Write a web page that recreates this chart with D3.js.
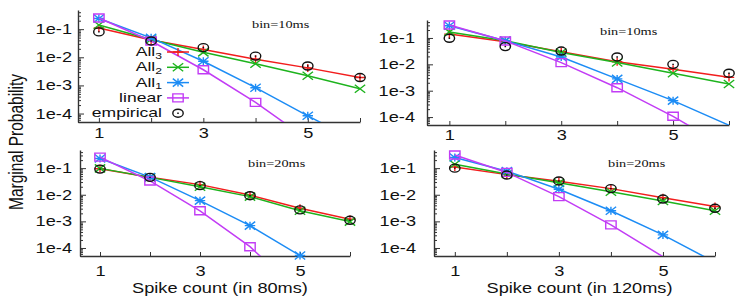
<!DOCTYPE html>
<html>
<head>
<meta charset="utf-8">
<script src="https://cdn.jsdelivr.net/npm/d3@7/dist/d3.min.js"></script>
<style>
  body { margin: 0; background: #fff; }
  svg text { font-family: "Liberation Sans", Arial, sans-serif; fill: #111; }
  svg text.bin { font-family: "Liberation Serif", "Times New Roman", serif; }
</style>
</head>
<body>
<div id="chart"></div>
<script>
const width = 747, height = 300;

// ---- data ----
const counts = [1, 2, 3, 4, 5, 6];
const seriesNames = ["All3", "All2", "All1", "linear", "empirical"];
const binLabels = ["bin=10ms", "bin=10ms", "bin=20ms", "bin=20ms"];
const xAxisLabels = [null, null, "Spike count (in 80ms)", "Spike count (in 120ms)"];
const xTickValues = [1, 2, 3, 4, 5, 6];
const yTickValues = [1e-1, 1e-2, 1e-3, 1e-4];

// top-left
const tlAll3 = [0.11, 0.041, 0.019, 0.0085, 0.0042, 0.0019];
const tlAll2 = [0.14, 0.043, 0.015, 0.0059, 0.0022, 0.00076];
const tlAll1 = [0.24, 0.049, 0.0072, 0.00083, 0.000083, 0.000009];
const tlLinear = [0.25, 0.038, 0.0036, 0.00025, 0.000012, 0.0000008];
const tlEmpirical = [0.08, 0.038, 0.022, 0.011, 0.0049, 0.0019];
// top-right
const trAll3 = [0.14, 0.072, 0.030, 0.0126, 0.0065, 0.0032];
const trAll2 = [0.17, 0.079, 0.028, 0.0117, 0.0046, 0.0018];
const trAll1 = [0.29, 0.079, 0.019, 0.0028, 0.00042, 0.000049];
const trLinear = [0.31, 0.077, 0.0116, 0.0013, 0.000107, 0.000006];
const trEmpirical = [0.097, 0.047, 0.032, 0.019, 0.010, 0.0046];
// bottom-left
const blAll3 = [0.095, 0.045, 0.024, 0.0097, 0.0031, 0.0012];
const blAll2 = [0.098, 0.045, 0.020, 0.0085, 0.0025, 0.00098];
const blAll1 = [0.23, 0.046, 0.006, 0.00069, 0.000052, 0.000005];
const blLinear = [0.26, 0.033, 0.0025, 0.000112, 0.000002, 0.0000001];
const blEmpirical = [0.092, 0.045, 0.022, 0.0092, 0.0027, 0.0011];
// bottom-right
const brAll3 = [0.11, 0.057, 0.032, 0.017, 0.0077, 0.0036];
const brAll2 = [0.14, 0.060, 0.028, 0.013, 0.0058, 0.0025];
const brAll1 = [0.25, 0.077, 0.016, 0.0025, 0.00031, 0.000029];
const brLinear = [0.31, 0.069, 0.0085, 0.00074, 0.000047, 0.000003];
const brEmpirical = [0.10, 0.055, 0.033, 0.017, 0.0069, 0.0031];

// ---- styles / layout ----
const sx = 1.3; // figure is stretched horizontally
const colors = ["#f21d1d", "#1db31d", "#1c8cf5", "#c23cf5", "#111"];
const h = 4;
const symbols = [
  `M${-h},0H${h}M0,${-h}V${h}`,
  `M${-h},${-h}L${h},${h}M${-h},${h}L${h},${-h}`,
  `M${-h},0H${h}M0,${-h}V${h}M${-h},${-h}L${h},${h}M${-h},${h}L${h},${-h}`,
  `M${-h},${-h}H${h}V${h}H${-h}Z`,
  `M${-h},0A${h},${h} 0 1,0 ${h},0A${h},${h} 0 1,0 ${-h},0ZM-0.6,0h1.2`
];

const panels = [
  { box: { l: 78, r: 360, t: 10, b: 122 }, yGap: 6, xGap: 16, bin: [252, 28],
    series: [tlAll3, tlAll2, tlAll1, tlLinear, tlEmpirical] },
  { box: { l: 427, r: 729, t: 20, b: 125 }, yGap: 12, xGap: 15, bin: [600, 35],
    series: [trAll3, trAll2, trAll1, trLinear, trEmpirical] },
  { box: { l: 80, r: 350, t: 150, b: 256 }, yGap: 8, xGap: 20, bin: [248, 167],
    series: [blAll3, blAll2, blAll1, blLinear, blEmpirical] },
  { box: { l: 434, r: 715, t: 150, b: 256 }, yGap: 18, xGap: 20, bin: [608, 167],
    series: [brAll3, brAll2, brAll1, brLinear, brEmpirical] }
];

const svg = d3.select("#chart").append("svg")
  .attr("width", width).attr("height", height);

const yDomain = [5e-5, 0.48];
const minorTicks = [];
for (let e = -5; e <= 0; e++)
  for (let k = 2; k <= 9; k++) {
    const v = k * Math.pow(10, e);
    if (v >= yDomain[0] && v <= yDomain[1]) minorTicks.push(v);
  }

panels.forEach((p, i) => {
  const x = d3.scaleLinear().domain([0.6, 6]).range([p.box.l, p.box.r]);
  const y = d3.scaleLog().domain(yDomain).range([p.box.b, p.box.t]);
  const g = svg.append("g");

  // y axis (minor then major)
  g.append("g").attr("transform", `translate(${p.box.l},0)`)
    .call(d3.axisLeft(y).tickValues(minorTicks).tickFormat("").tickSizeInner(-3).tickSizeOuter(0))
    .call(a => a.select(".domain").remove())
    .selectAll("line").attr("stroke", "#333");
  const ya = g.append("g").attr("transform", `translate(${p.box.l},0)`)
    .call(d3.axisLeft(y).tickValues(yTickValues)
      .tickFormat(d => "1e" + Math.round(Math.log10(d)))
      .tickSizeInner(-6).tickSizeOuter(0).tickPadding(p.yGap / sx));
  ya.select(".domain").attr("stroke", "#333").attr("stroke-width", 1.4);
  ya.selectAll("line").attr("stroke", "#333");
  ya.selectAll(".tick text").attr("font-size", 14).attr("font-family", null)
    .attr("transform", `scale(${sx},1)`).attr("fill", "#111");

  // x axis
  const xa = g.append("g").attr("transform", `translate(0,${p.box.b})`)
    .call(d3.axisBottom(x).tickValues(xTickValues)
      .tickFormat(d => d % 2 ? d : "")
      .tickSizeInner(-4).tickSizeOuter(0).tickPadding(p.xGap - 10));
  xa.select(".domain").attr("stroke", "#333").attr("stroke-width", 1.4);
  xa.selectAll("line").attr("stroke", "#333");
  xa.selectAll(".tick text").attr("font-size", 14).attr("font-family", null)
    .attr("transform", `scale(${sx},1)`).attr("fill", "#111");

  // clip
  const cid = "clip" + i;
  svg.append("clipPath").attr("id", cid).append("rect")
    .attr("x", p.box.l).attr("y", p.box.t)
    .attr("width", p.box.r - p.box.l).attr("height", p.box.b - p.box.t);

  const line = d3.line().x((d, j) => x(counts[j])).y(d => y(d));

  p.series.forEach((vals, s) => {
    if (s < 4) {
      g.append("path").attr("d", line(vals))
        .attr("clip-path", `url(#${cid})`)
        .attr("fill", "none").attr("stroke", colors[s]).attr("stroke-width", 1.5);
    }
    g.selectAll(null).data(vals.map((v, j) => [counts[j], v]).filter(d => d[1] >= yDomain[0]))
      .join("path")
      .attr("d", symbols[s])
      .attr("transform", d => `translate(${x(d[0])},${y(d[1])}) scale(${sx},1)`)
      .attr("fill", "none").attr("stroke", colors[s]).attr("stroke-width", 1.4)
      .attr("vector-effect", "non-scaling-stroke");
  });

  // bin label
  g.append("text").attr("class", "bin")
    .attr("transform", `translate(${p.bin[0]},${p.bin[1]}) scale(${sx},1)`)
    .attr("font-size", 11)
    .text(binLabels[i]);

  if (xAxisLabels[i]) {
    g.append("text")
      .attr("transform", `translate(${(p.box.l + p.box.r) / 2 + 5},293) scale(${sx},1)`)
      .attr("text-anchor", "middle").attr("font-size", 14)
      .text(xAxisLabels[i]);
  }

  // legend in first panel
  if (i === 0) {
    const lg = g.append("g");
    seriesNames.forEach((name, s) => {
      const ly = 52 + 15.3 * s;
      const t = lg.append("text")
        .attr("transform", `translate(162,${ly + 4}) scale(${sx + 0.05},1)`)
        .attr("text-anchor", "end").attr("font-size", 13);
      if (name.startsWith("All")) {
        t.append("tspan").text("All");
        t.append("tspan").attr("dy", 2.5).attr("font-size", 9).text(name.slice(3));
      } else {
        t.text(name);
      }
      if (s < 4) {
        lg.append("line").attr("x1", 167).attr("x2", 189).attr("y1", ly).attr("y2", ly)
          .attr("stroke", colors[s]).attr("stroke-width", 1.5);
      }
      lg.append("path").attr("d", symbols[s])
        .attr("transform", `translate(178,${ly}) scale(${sx},1)`)
        .attr("fill", "none").attr("stroke", colors[s]).attr("stroke-width", 1.4)
        .attr("vector-effect", "non-scaling-stroke");
    });
  }
});

// shared y label
svg.append("text")
  .attr("transform", "translate(23,142) rotate(-90) scale(1,1.25)")
  .attr("text-anchor", "middle").attr("font-size", 15.5)
  .text("Marginal Probability");
</script>
</body>
</html>
